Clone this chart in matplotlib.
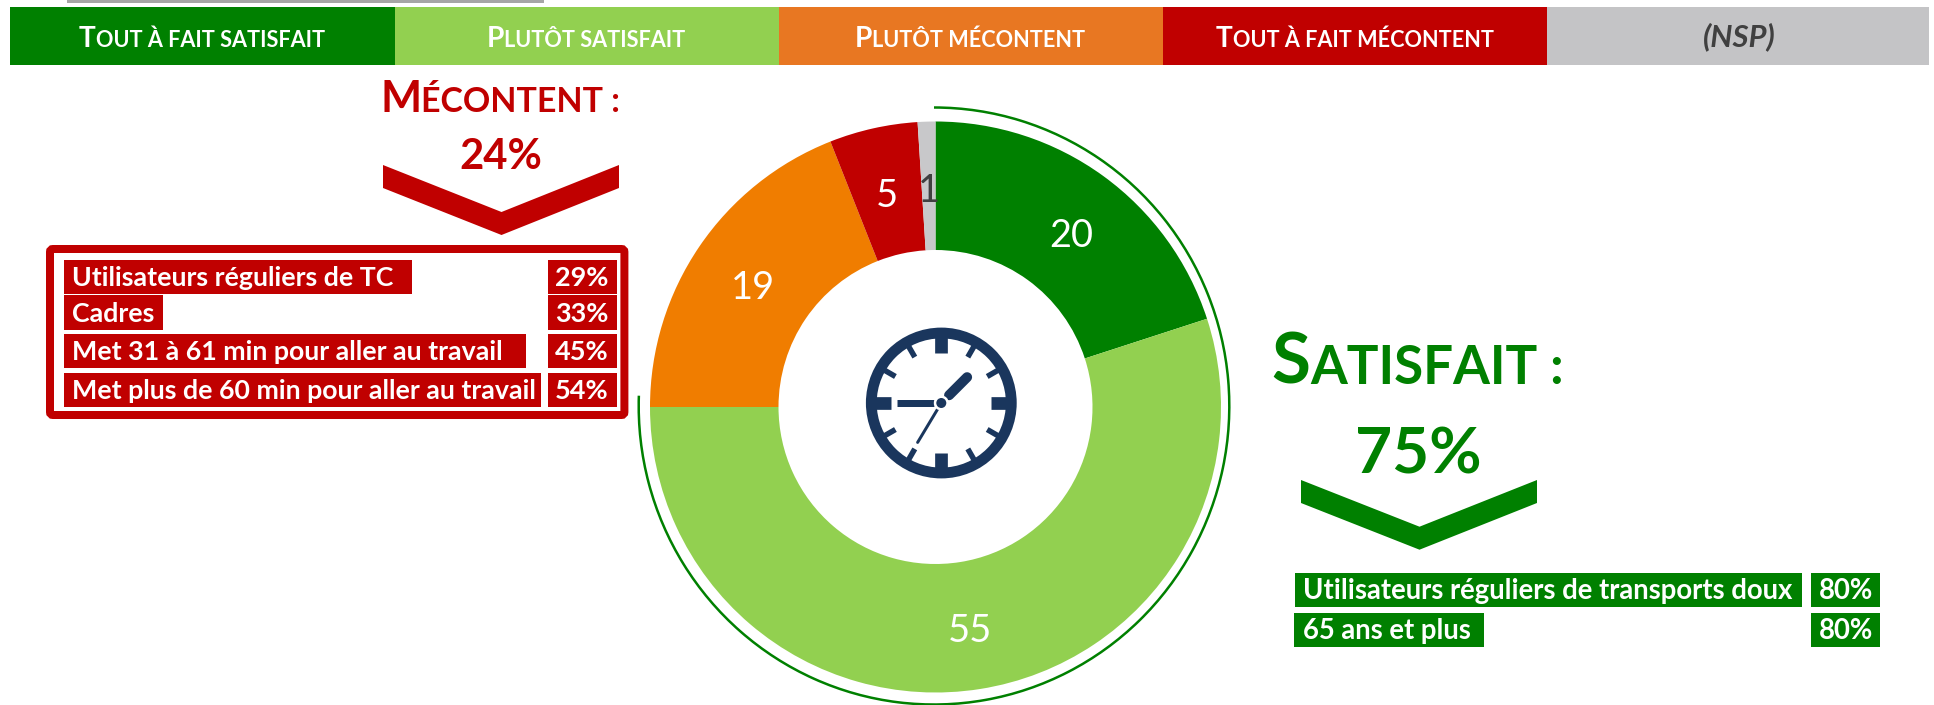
import numpy as np
import matplotlib
matplotlib.use("Agg")
import matplotlib.pyplot as plt
from matplotlib.patches import Rectangle, Polygon, Arc, Circle, FancyBboxPatch

# ---- data ----
categories = ["Tout à fait satisfait", "Plutôt satisfait", "Plutôt mécontent", "Tout à fait mécontent", "(NSP)"]
values = [20, 55, 19, 5, 1]
pie_colors = ["#008000", "#92D050", "#F07D00", "#C00000", "#C8C8CA"]
legend_colors = ["#008000", "#92D050", "#E87722", "#C00000", "#C4C4C6"]
label_colors = ["white", "white", "white", "white", "#404040"]
label_nudge = [(6, -8), (0, -5), (0, -5), (0, -5), (0, -5)]
red_labels = ["Utilisateurs réguliers de TC", "Cadres", "Met 31 à 61 min pour aller au travail", "Met plus de 60 min pour aller au travail"]
red_pcts = ["29%", "33%", "45%", "54%"]
green_labels = ["Utilisateurs réguliers de transports doux", "65 ans et plus"]
green_pcts = ["80%", "80%"]

W, H = 1934, 705
GREEN, RED, NAVY = "#008000", "#C00000", "#1A365D"
FONT = "Lato"

fig = plt.figure(figsize=(W / 100, H / 100), dpi=100, facecolor="white")
ax = fig.add_axes([0, 0, 1, 1])
rend = fig.canvas.get_renderer()
Y = lambda y: H - y
PT = 72 / 100


def box(x0, y0, x1, y1, color, z=2):
    ax.add_patch(Rectangle((x0, Y(y1)), x1 - x0, y1 - y0, fc=color, ec="none", zorder=z))


def fit(x, base, s, width, color, ha="left", weight="bold", style="normal", z=5):
    t = ax.text(x, Y(base), s, ha=ha, va="baseline", color=color, family=FONT,
                weight=weight, style=style, fontsize=20, zorder=z)
    t.set_fontsize(20 * width / t.get_window_extent(rend).width)
    return t


def small_caps(cx, base, s, big_px, small_px, color):
    """first letter large, the rest smaller; centred on cx."""
    a = ax.text(0, Y(base), s[0], ha="left", va="baseline", color=color, family=FONT,
                weight="bold", fontsize=big_px * PT, zorder=5)
    b = ax.text(0, Y(base), s[1:], ha="left", va="baseline", color=color, family=FONT,
                weight="bold", fontsize=small_px * PT, zorder=5)
    wa = a.get_window_extent(rend).width
    wb = b.get_window_extent(rend).width
    x0 = cx - (wa + wb) / 2
    a.set_x(x0)
    b.set_x(x0 + wa)


# ---- donut ----
wedges, _, autotexts = ax.pie(values, colors=pie_colors, startangle=90, counterclock=False,
                              center=(935.5, Y(407)), radius=285.5,
                              wedgeprops=dict(width=285.5 - 157, linewidth=0),
                              autopct=lambda p: f"{p:.0f}", pctdistance=0.775, frame=True)
for t, c, (dx, dy) in zip(autotexts, label_colors, label_nudge):
    t.set(color=c, family=FONT, weight="normal", fontsize=38 * PT, zorder=4)
    px, py = t.get_position()
    t.set_position((px + dx, py + dy))

ax.set_xlim(0, W)
ax.set_ylim(0, H)
ax.set_aspect("equal")
ax.axis("off")

# arc around the satisfied share
ax.add_patch(Arc((934, Y(406)), 590.6, 597, theta1=178, theta2=450, ec=GREEN, lw=1.8, zorder=3))

# ---- stray grey strip at the top ----
box(67, 0, 544, 3.2, "#A6A6A6")

# ---- legend band ----
edges = [10, 395, 779, 1163, 1547, 1929]
text_cx = [202, 586, 970, 1355, 1739]
upper = [c.upper() for c in categories]
for i, (c, s) in enumerate(zip(legend_colors, upper)):
    box(edges[i], 7, edges[i + 1], 65, c)
    if i < 4:
        small_caps(text_cx[i], 46.7, s, 28, 21.7, "white")
    else:
        ax.text(text_cx[i], Y(46.7), s, ha="center", va="baseline", color="#404040",
                family=FONT, weight="bold", style="italic", fontsize=31 * PT, zorder=5)

# ---- mécontent block ----
small_caps(500, 112, "MÉCONTENT :", 43.5, 34, RED)
fit(500.5, 169, "24%", 83, RED, ha="center")
ax.add_patch(Polygon([(383, Y(165)), (501.5, Y(212)), (619, Y(165)), (619, Y(188)),
                      (501.5, Y(235)), (383, Y(188))], closed=True, fc=RED, ec="none", zorder=2))
ax.add_patch(FancyBboxPatch((50, Y(415)), 574.4, 166, boxstyle="round,pad=0,rounding_size=3",
                            fc="white", ec=RED, lw=8 * PT, zorder=2))
red_y = [(260, 293.7), (295.3, 329.7), (334, 367.7), (373.3, 406.7)]
red_r = [411.8, 162.8, 525.7, 540.7]
for s, p, (y0, y1), r in zip(red_labels, red_pcts, red_y, red_r):
    box(64, y0, r, y1, RED, z=3)
    box(547.8, y0, 617.4, y1, RED, z=3)
    ax.text(72.3, Y(y1 - 7.5), s, ha="left", va="baseline", color="white", family=FONT,
            weight="bold", fontsize=26.8 * PT, zorder=5)
    ax.text(581.4, Y(y1 - 7.5), p, ha="center", va="baseline", color="white", family=FONT,
            weight="bold", fontsize=27 * PT, zorder=5)

# ---- satisfait block ----
small_caps(1417.5, 384, "SATISFAIT :", 71, 53, GREEN)
fit(1418.5, 474, "75%", 127, GREEN, ha="center")
ax.add_patch(Polygon([(1301, Y(480)), (1419.5, Y(526.7)), (1537, Y(480)), (1537, Y(503)),
                      (1419.5, Y(549.7)), (1301, Y(503))], closed=True, fc=GREEN, ec="none", zorder=2))
green_y = [(573, 606.7), (613, 646.7)]
green_l = [1294.8, 1294]
green_r = [1802, 1484]
for s, p, (y0, y1), l, r in zip(green_labels, green_pcts, green_y, green_l, green_r):
    box(l, y0, r, y1, GREEN, z=3)
    box(1811, y0, 1880, y1, GREEN, z=3)
    ax.text(1303, Y(y1 - 7.5), s, ha="left", va="baseline", color="white", family=FONT,
            weight="bold", fontsize=27.5 * PT, zorder=5)
    ax.text(1845.5, Y(y1 - 7.5), p, ha="center", va="baseline", color="white", family=FONT,
            weight="bold", fontsize=27.5 * PT, zorder=5)

# ---- clock icon ----
cx, cy = 941.3, Y(403)
ax.add_patch(Circle((cx, cy), 70, fc="white", ec=NAVY, lw=10.8 * PT, zorder=6))


def spoke(ang, r0, r1, w, cap="butt", color=NAVY, z=7):
    a = np.radians(ang)
    ax.plot([cx + r0 * np.sin(a), cx + r1 * np.sin(a)], [cy + r0 * np.cos(a), cy + r1 * np.cos(a)],
            color=color, lw=w * PT, solid_capstyle=cap, zorder=z)


for a in range(0, 360, 30):
    if a % 90 == 0:
        spoke(a, 50, 66, 12.7)
    else:
        spoke(a, 53, 66, 5.5)
spoke(45, 11, 36.5, 10, cap="round")
spoke(270, 7.5, 44, 7)
spoke(211, 7, 46, 3, cap="round")
ax.add_patch(Circle((cx, cy), 7.5, fc="white", ec="none", zorder=8))
ax.add_patch(Circle((cx, cy), 5, fc=NAVY, ec="none", zorder=9))

fig.savefig("out.png", dpi=100, facecolor="white")
